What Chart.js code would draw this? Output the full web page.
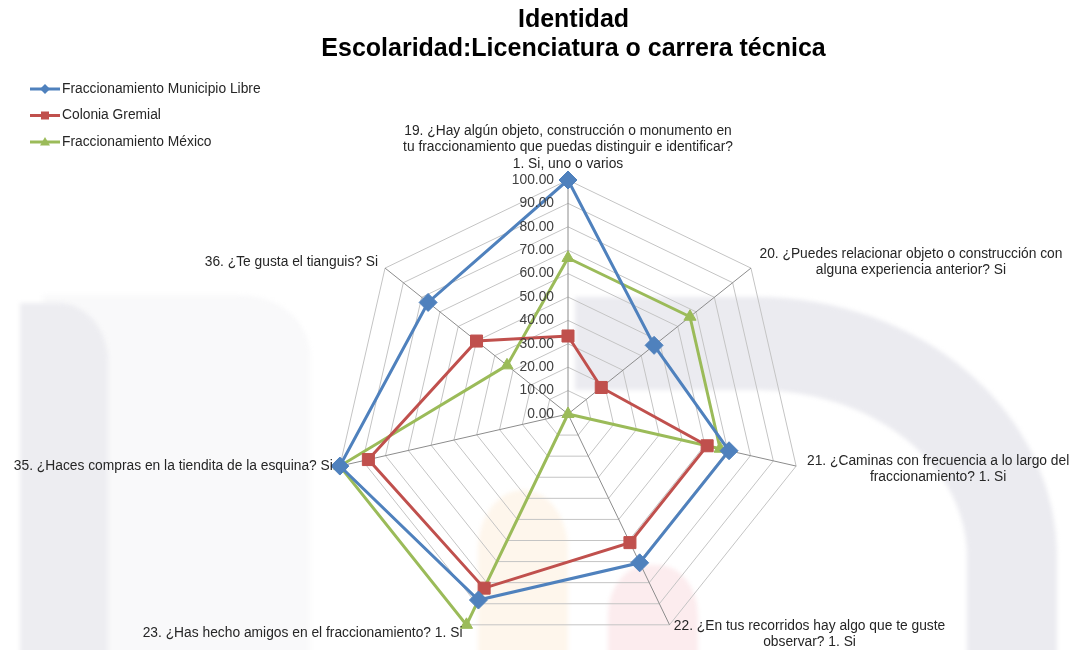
<!DOCTYPE html>
<html>
<head>
<meta charset="utf-8">
<script src="https://cdn.jsdelivr.net/npm/chart.js@4/dist/chart.umd.min.js"></script>
<style>
  html, body { margin: 0; padding: 0; background: #ffffff; overflow: hidden; }
  #wrap { position: relative; width: 1073px; height: 650px; overflow: hidden; }
  canvas { position: absolute; left: 0; top: 0; z-index: 2; }
  .wm { position: absolute; z-index: 1; box-sizing: border-box; filter: blur(2px); }
</style>
</head>
<body>
<div id="wrap">
  <!-- faint watermark of the source page -->
  <div class="wm" style="left:43px; top:295px; width:267px; height:400px; background:#f9f9fa; border-top-right-radius:70px 60px;"></div>
  <div class="wm" style="left:20px; top:303px; width:88px; height:400px; background:#ededf1; border-top-right-radius:50px 58px;"></div>
  <div class="wm" style="left:575px; top:297px; width:482px; height:420px; border-top:93px solid #ebebf0; border-right:90px solid #ebebf0; border-top-right-radius:300px 260px;"></div>
  <div class="wm" style="left:478px; top:490px; width:90px; height:220px; background:#fef6ec; border-top-left-radius:45px 60px; border-top-right-radius:45px 60px;"></div>
  <div class="wm" style="left:608px; top:565px; width:90px; height:120px; background:#fcecee; border-top-left-radius:40px 50px; border-top-right-radius:40px 50px;"></div>
  <canvas id="c" width="1073" height="650"></canvas>
</div>
<script>
const titleLines = ["Identidad", "Escolaridad:Licenciatura o carrera técnica"];
const categories = [
  ["19. ¿Hay algún objeto, construcción o monumento en", "tu fraccionamiento que puedas distinguir e identificar?", "1. Si, uno o varios"],
  ["20. ¿Puedes relacionar objeto o construcción con", "alguna experiencia anterior? Si"],
  ["21. ¿Caminas con frecuencia a lo largo del", "fraccionamiento? 1. Si"],
  ["22. ¿En tus recorridos hay algo que te guste", "observar? 1. Si"],
  ["23. ¿Has hecho amigos en el fraccionamiento? 1. Si"],
  ["35. ¿Haces compras en la tiendita de la esquina? Si"],
  ["36. ¿Te gusta el tianguis? Si"]
];
const seriesNames = ["Fraccionamiento Municipio Libre", "Colonia Gremial", "Fraccionamiento México"];
const municipioLibre = [100.00, 47.06, 70.59, 70.59, 88.24, 100.00, 76.47];
const coloniaGremial = [33.33, 18.18, 61.00, 61.00, 82.60, 87.50, 50.00];
const fraccMexico    = [66.67, 66.67, 66.67, 0.00, 100.00, 100.00, 33.33];
const tickMin = 0, tickMax = 100, tickStep = 10;

const colors = ['#4F81BD', '#C0504D', '#9BBB59'];
const styles = ['rectRot', 'rect', 'triangle'];
const radii = [9, 8.5, 7];
const FONT = '"Liberation Sans", Arial, sans-serif';
const LABEL_FONT = '13.8px ' + FONT;

// label layout relative to outer vertex: [align, dx, dy of first line]
const labelLayout = [
  ['center', 0, -49],
  ['center', 160, -14],
  ['center', 142, -5],
  ['center', 140, 1],
  ['right', -4, 8],
  ['right', -7, 0],
  ['right', -7, -6]
];

const overlay = {
  id: 'overlay',
  afterDraw(chart) {
    const ctx = chart.ctx;
    const s = chart.scales.r;
    ctx.save();
    // tick labels
    ctx.font = LABEL_FONT;
    ctx.fillStyle = '#404040';
    ctx.textAlign = 'right';
    ctx.textBaseline = 'middle';
    s.ticks.forEach(t => {
      const d = s.getDistanceFromCenterForValue(t.value);
      ctx.fillText(t.value.toFixed(2), s.xCenter - 14, s.yCenter - d);
    });
    // point labels
    ctx.fillStyle = '#262626';
    categories.forEach((lines, i) => {
      const p = s.getPointPosition(i, s.drawingArea);
      const [align, dx, dy] = labelLayout[i];
      ctx.textAlign = align;
      lines.forEach((ln, k) => {
        ctx.fillText(ln, p.x + dx, p.y + dy + k * 16.5);
      });
    });
    // legend
    const lx = 30, ly = 89, gap = 26.5;
    seriesNames.forEach((name, i) => {
      const y = ly + i * gap;
      ctx.strokeStyle = colors[i];
      ctx.lineWidth = 3;
      ctx.beginPath();
      ctx.moveTo(lx, y);
      ctx.lineTo(lx + 30, y);
      ctx.stroke();
      ctx.fillStyle = colors[i];
      ctx.beginPath();
      if (i === 0) { ctx.moveTo(lx + 15, y - 5); ctx.lineTo(lx + 20, y); ctx.lineTo(lx + 15, y + 5); ctx.lineTo(lx + 10, y); }
      else if (i === 1) { ctx.rect(lx + 11, y - 4, 8, 8); }
      else { ctx.moveTo(lx + 15, y - 5); ctx.lineTo(lx + 20, y + 3.5); ctx.lineTo(lx + 10, y + 3.5); }
      ctx.closePath();
      ctx.fill();
      ctx.fillStyle = '#262626';
      ctx.textAlign = 'left';
      ctx.fillText(name, lx + 32, y);
    });
    ctx.restore();
  }
};

new Chart(document.getElementById('c'), {
  type: 'radar',
  data: {
    labels: categories,
    datasets: [municipioLibre, coloniaGremial, fraccMexico].map((d, i) => ({
      label: seriesNames[i],
      data: d,
      borderColor: colors[i],
      backgroundColor: colors[i],
      borderWidth: 3,
      fill: false,
      tension: 0,
      pointStyle: styles[i],
      pointRadius: radii[i],
      pointHoverRadius: radii[i],
      pointBackgroundColor: colors[i],
      pointBorderColor: colors[i],
      pointBorderWidth: 1
    }))
  },
  options: {
    responsive: false,
    animation: false,
    events: [],
    layout: { padding: { left: 74, right: 0, top: 0, bottom: 0 } },
    plugins: {
      legend: { display: false },
      tooltip: { enabled: false },
      title: {
        display: true,
        text: titleLines,
        color: '#000000',
        font: { family: FONT, size: 25, weight: 'bold', lineHeight: 1.16 },
        padding: { top: 5.5, bottom: 0 }
      }
    },
    scales: {
      r: {
        min: tickMin,
        max: tickMax,
        ticks: { stepSize: tickStep, display: false },
        pointLabels: { display: false },
        grid: { circular: false, color: '#c4c4c4', lineWidth: 1 },
        angleLines: { color: '#8c8c8c', lineWidth: 1 },
        afterFit(scale) {
          scale.xCenter = 568;
          scale.yCenter = 414;
          scale.drawingArea = 234;
        }
      }
    }
  },
  plugins: [overlay]
});
</script>
</body>
</html>
